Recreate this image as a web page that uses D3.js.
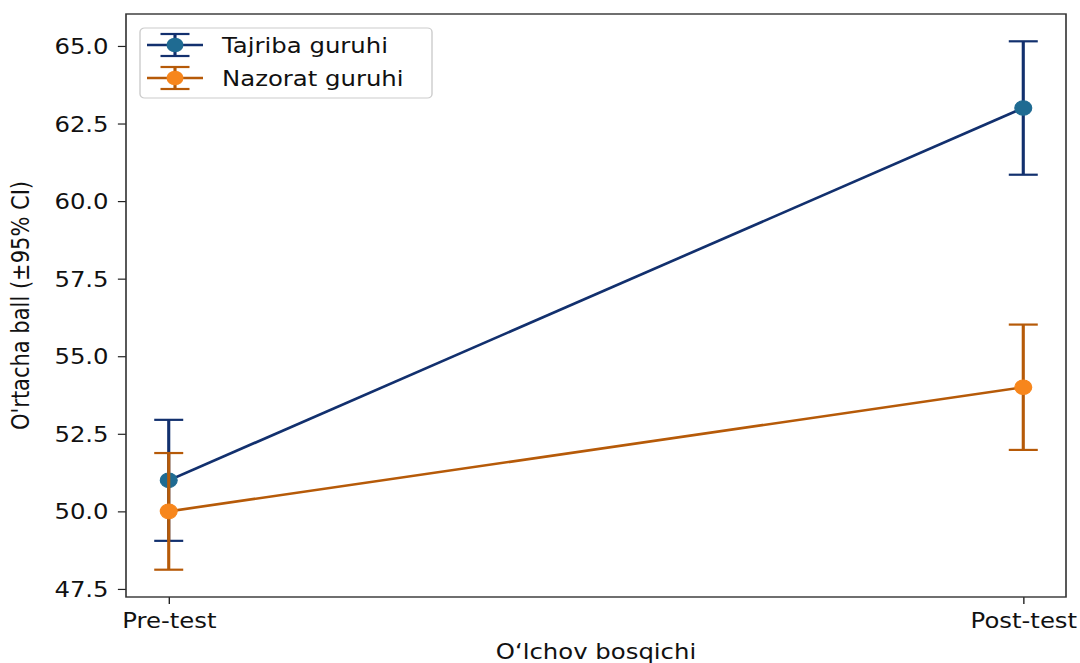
<!DOCTYPE html>
<html>
<head>
<meta charset="utf-8">
<script src="https://cdn.jsdelivr.net/npm/d3@7"></script>
<style>
  html, body { margin: 0; padding: 0; background: #fff; }
  text { font-family: "DejaVu Sans", sans-serif; fill: #111; }
</style>
</head>
<body>
<div id="chart"></div>
<script>
// data
const stages = ["Pre-test", "Post-test"];
const groups = ["Tajriba guruhi", "Nazorat guruhi"];
const tajribaMean = [51.0, 63.0];
const tajribaCI = [1.95, 2.15];
const nazoratMean = [50.0, 54.0];
const nazoratCI = [1.88, 2.02];
const yTicks = [47.5, 50.0, 52.5, 55.0, 57.5, 60.0, 62.5, 65.0];

// the reference is stretched horizontally, so draw in a narrower box and stretch it
const stretch = 1.16;
const W = 1080, H = 663;
const VW = W / stretch;
const margin = { top: 14, right: VW - 1066 / stretch, bottom: H - 597, left: 126 / stretch };
const width = VW - margin.left - margin.right;
const height = H - margin.top - margin.bottom;

const series = [
  { name: groups[0], mean: tajribaMean, ci: tajribaCI, line: "#12306e", marker: "#1f6b92" },
  { name: groups[1], mean: nazoratMean, ci: nazoratCI, line: "#b65a08", marker: "#f7861c" },
];

const svg = d3
  .select("#chart")
  .append("svg")
  .attr("width", W)
  .attr("height", H)
  .attr("viewBox", `0 0 ${VW} ${H}`)
  .attr("preserveAspectRatio", "none");

const g = svg.append("g").attr("transform", `translate(${margin.left},${margin.top})`);

const xScale = d3.scaleLinear().domain([-0.05, 1.05]).range([0, width]);
const yScale = d3.scaleLinear().domain([47.24, 66.03]).range([height, 0]);

// axes
const yAxis = d3.axisLeft(yScale).tickValues(yTicks).tickFormat(d3.format(".1f")).tickSize(7).tickPadding(8);
const xAxis = d3.axisBottom(xScale).tickValues([0, 1]).tickFormat((d) => stages[d]).tickSize(7).tickPadding(5);

const ya = g.append("g").call(yAxis);
const xa = g.append("g").attr("transform", `translate(0,${height})`).call(xAxis);
[ya, xa].forEach((a) => {
  a.select(".domain").remove();
  a.selectAll(".tick line").attr("stroke", "#222").attr("stroke-width", 1.2);
  a.selectAll(".tick text").style("font-size", "21px").attr("fill", "#111");
});
ya.selectAll(".tick text").attr("dy", "0.36em");
xa.selectAll(".tick text").attr("dy", "0.9em");

// frame
g.append("rect")
  .attr("width", width)
  .attr("height", height)
  .attr("fill", "none")
  .attr("stroke", "#333")
  .attr("stroke-width", 1.4);

const line = d3
  .line()
  .x((d, i) => xScale(i))
  .y((d) => yScale(d));

const capW = 12.5;

series.forEach((s) => {
  const sg = g.append("g");
  sg.append("path")
    .attr("d", line(s.mean))
    .attr("fill", "none")
    .attr("stroke", s.line)
    .attr("stroke-width", 2.6);

  s.mean.forEach((m, i) => {
    const x = xScale(i);
    const lo = yScale(m - s.ci[i]);
    const hi = yScale(m + s.ci[i]);
    sg.append("line")
      .attr("x1", x).attr("x2", x).attr("y1", lo).attr("y2", hi)
      .attr("stroke", s.line).attr("stroke-width", 2.7);
    [lo, hi].forEach((y) => {
      sg.append("line")
        .attr("x1", x - capW).attr("x2", x + capW).attr("y1", y).attr("y2", y)
        .attr("stroke", s.line).attr("stroke-width", 2.2);
    });
  });

  sg.selectAll("circle")
    .data(s.mean)
    .enter()
    .append("circle")
    .attr("cx", (d, i) => xScale(i))
    .attr("cy", (d) => yScale(d))
    .attr("r", 7.3)
    .attr("fill", s.marker)
    .attr("stroke", s.marker)
    .attr("stroke-width", 1);
});

// legend
const lg = svg.append("g").attr("transform", `translate(${140 / stretch},28)`);
lg.append("rect")
  .attr("width", (432 - 140) / stretch)
  .attr("height", 70)
  .attr("rx", 4)
  .attr("fill", "#fff")
  .attr("fill-opacity", 0.8)
  .attr("stroke", "#ccc")
  .attr("stroke-width", 1.2);

series.forEach((s, i) => {
  const cy = 17 + i * 33;
  const x0 = 7 / stretch, x1 = 63 / stretch, xm = 35 / stretch;
  const row = lg.append("g");
  row.append("line").attr("x1", x0).attr("x2", x1).attr("y1", cy).attr("y2", cy)
    .attr("stroke", s.line).attr("stroke-width", 2.6);
  row.append("line").attr("x1", xm).attr("x2", xm).attr("y1", cy - 11).attr("y2", cy + 11)
    .attr("stroke", s.line).attr("stroke-width", 2.7);
  [cy - 11, cy + 11].forEach((y) => {
    row.append("line").attr("x1", xm - capW).attr("x2", xm + capW).attr("y1", y).attr("y2", y)
      .attr("stroke", s.line).attr("stroke-width", 2.2);
  });
  row.append("circle").attr("cx", xm).attr("cy", cy).attr("r", 7.3).attr("fill", s.marker);
  row.append("text")
    .attr("x", 82 / stretch)
    .attr("y", cy)
    .attr("dy", "0.36em")
    .style("font-size", "21px")
    .text(s.name);
});

// axis labels
svg.append("text")
  .attr("x", margin.left + width / 2)
  .attr("y", 659)
  .attr("text-anchor", "middle")
  .style("font-size", "21px")
  .text("O‘lchov bosqichi");

svg.append("text")
  .attr("transform", `translate(${29 / stretch},${margin.top + height / 2}) rotate(-90)`)
  .attr("text-anchor", "middle")
  .style("font-size", "21px")
  .text("O'rtacha ball (±95% CI)");
</script>
</body>
</html>
